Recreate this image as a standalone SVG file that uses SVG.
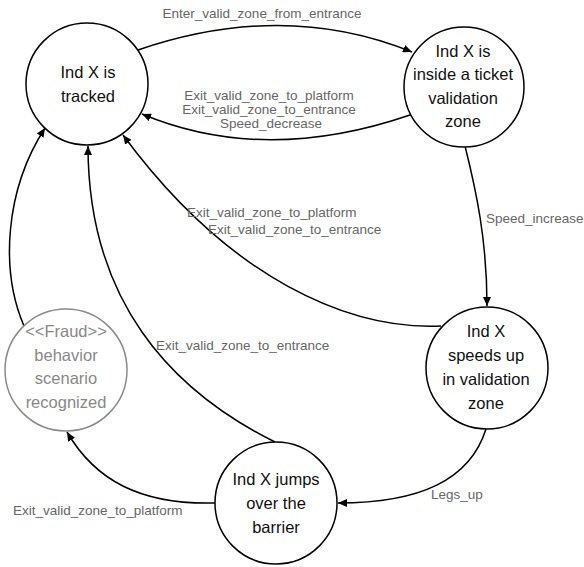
<svg xmlns="http://www.w3.org/2000/svg" width="584" height="567" viewBox="0 0 584 567">
<style>
.node{fill:#fff;stroke:#000;stroke-width:1.5}
.gnode{fill:#fff;stroke:#8a8a8a;stroke-width:1.5}
.nt{font-family:"Liberation Sans",Arial,sans-serif;font-size:16.5px;fill:#111;text-anchor:middle}
.gt{font-family:"Liberation Sans",Arial,sans-serif;font-size:16.5px;fill:#888;text-anchor:middle}
.edge{fill:none;stroke:#000;stroke-width:1.5}
.lbl{font-family:"Liberation Sans",Arial,sans-serif;font-size:13.5px;fill:#666}
</style>
<defs>
<marker id="arr" markerUnits="userSpaceOnUse" markerWidth="10" markerHeight="8" refX="9" refY="4" orient="auto">
<path d="M0,0 L9,4 L0,8 z" fill="#000"/>
</marker>
</defs>
<g id="connectors">
<path class="edge" d="M138 50 Q284 0 412 52" marker-end="url(#arr)"/>
<path class="edge" d="M410 115 Q264 165 142 114" marker-end="url(#arr)"/>
<path class="edge" d="M465 146 C476 190 487 240 487 306" marker-end="url(#arr)"/>
<path class="edge" d="M441 326 C350 330 230 280 123 135" marker-end="url(#arr)"/>
<path class="edge" d="M275 442 C170 390 88 300 88 146" marker-end="url(#arr)"/>
<path class="edge" d="M24 326 C0 270 5 190 45 128" marker-end="url(#arr)"/>
<path class="edge" d="M486 429 C470 480 420 503 338 503" marker-end="url(#arr)"/>
<path class="edge" d="M215 503 C140 505 95 480 67 432" marker-end="url(#arr)"/>
<text class="lbl" x="262" y="18" text-anchor="middle">Enter_valid_zone_from_entrance</text>
<text class="lbl" x="269" y="100" text-anchor="middle">Exit_valid_zone_to_platform</text>
<text class="lbl" x="269" y="114" text-anchor="middle">Exit_valid_zone_to_entrance</text>
<text class="lbl" x="271" y="128" text-anchor="middle">Speed_decrease</text>
<text class="lbl" x="486" y="223">Speed_increase</text>
<text class="lbl" x="187" y="217">Exit_valid_zone_to_platform</text>
<text class="lbl" x="208" y="234">Exit_valid_zone_to_entrance</text>
<text class="lbl" x="156" y="350">Exit_valid_zone_to_entrance</text>
<text class="lbl" x="431" y="499">Legs_up</text>
<text class="lbl" x="13" y="515">Exit_valid_zone_to_platform</text>
</g>
<g id="tracked">
<circle class="node" cx="87" cy="84" r="61"/>
<text class="nt" x="88" y="78">Ind X is</text>
<text class="nt" x="88" y="102">tracked</text>
</g>
<g id="inside-zone">
<circle class="node" cx="464" cy="87" r="60"/>
<text class="nt" x="463" y="57">Ind X is</text>
<text class="nt" x="463" y="80">inside a ticket</text>
<text class="nt" x="463" y="104">validation</text>
<text class="nt" x="463" y="127">zone</text>
</g>
<g id="speeds-up">
<circle class="node" cx="487" cy="368" r="61"/>
<text class="nt" x="486" y="337">Ind X</text>
<text class="nt" x="486" y="361">speeds up</text>
<text class="nt" x="486" y="385">in validation</text>
<text class="nt" x="486" y="409">zone</text>
</g>
<g id="jumps">
<circle class="node" cx="276" cy="503" r="61"/>
<text class="nt" x="276" y="485">Ind X jumps</text>
<text class="nt" x="276" y="509">over the</text>
<text class="nt" x="276" y="533">barrier</text>
</g>
<g id="fraud">
<circle class="gnode" cx="66" cy="370" r="61"/>
<text class="gt" x="66" y="337">&lt;&lt;Fraud&gt;&gt;</text>
<text class="gt" x="66" y="361">behavior</text>
<text class="gt" x="66" y="384">scenario</text>
<text class="gt" x="66" y="408">recognized</text>
</g>
</svg>
